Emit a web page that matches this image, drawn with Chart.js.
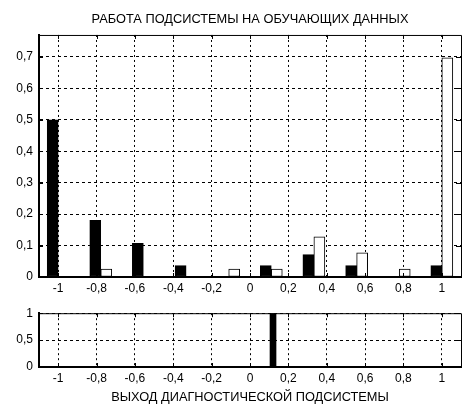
<!DOCTYPE html>
<html>
<head>
<meta charset="utf-8">
<script src="https://cdn.jsdelivr.net/npm/chart.js@4"></script>
<style>
  body { margin: 0; background: #fff; }
  #wrap { position: relative; width: 475px; height: 417px; }
  .box { position: absolute; left: 0; width: 475px; }
</style>
</head>
<body>
<div id="wrap">
  <div class="box" style="top:0; height:300px;"><canvas id="top"></canvas></div>
  <div class="box" style="top:300px; height:117px;"><canvas id="bottom"></canvas></div>
</div>
<script>
// центры интервалов гистограммы
var binCenters = [-1, -0.778, -0.556, -0.333, -0.111, 0.111, 0.333, 0.556, 0.778, 1];
// доли (черные / белые столбики)
var blackVals = [0.5, 0.18, 0.107, 0.036, 0, 0.036, 0.071, 0.036, 0, 0.036];
var whiteVals = [0, 0.025, 0, 0, 0.025, 0.025, 0.128, 0.077, 0.025, 0.697];
// нижний график
var outX = [0.12];
var outY = [1];

var xTicks = [-1, -0.8, -0.6, -0.4, -0.2, 0, 0.2, 0.4, 0.6, 0.8, 1];
var yTicksTop = [0, 0.1, 0.2, 0.3, 0.4, 0.5, 0.6, 0.7];
var yTicksBottom = [0, 0.5, 1];

var FONT = { family: 'Liberation Sans, Arial, sans-serif', size: 12, weight: 'normal' };
var TFONT = { family: 'Liberation Sans, Arial, sans-serif', size: 12.8, weight: 'normal' };
Chart.defaults.color = '#000';

function fmt(v) { return String(v).replace('.', ','); }
function pts(xs, ys) {
  return xs.map(function(x, i) { return { x: x, y: ys[i] === 0 ? null : ys[i] }; });
}

// рамка сверху/справа и внутренние риски
var boxPlugin = {
  id: 'boxPlugin',
  afterDraw: function(chart) {
    var a = chart.chartArea, c = chart.ctx;
    var xs = chart.scales.x, ys = chart.scales.y;
    c.save();
    c.strokeStyle = '#000';
    c.lineWidth = 1;
    c.setLineDash([]);
    c.beginPath();
    c.moveTo(a.left, a.top + 0.5); c.lineTo(a.right + 0.5, a.top + 0.5);
    c.lineTo(a.right + 0.5, a.bottom);
    c.stroke();
    c.beginPath();
    xs.ticks.forEach(function(t) {
      var px = Math.round(xs.getPixelForValue(t.value)) + 0.5;
      c.moveTo(px, a.bottom); c.lineTo(px, a.bottom - 4);
      c.moveTo(px, a.top); c.lineTo(px, a.top + 4);
    });
    ys.ticks.forEach(function(t) {
      var py = Math.round(ys.getPixelForValue(t.value)) + 0.5;
      c.moveTo(a.left, py); c.lineTo(a.left + 4, py);
      c.moveTo(a.right, py); c.lineTo(a.right - 5, py);
    });
    c.stroke();
    c.restore();
  }
};

function xScale(withTitle) {
  return {
    type: 'linear', min: -1.1, max: 1.1, offset: false,
    afterBuildTicks: function(s) { s.ticks = xTicks.map(function(v) { return { value: v }; }); },
    afterFit: function(s) { s.height = withTitle ? 50 : 23; },
    ticks: { font: FONT, padding: 4, maxRotation: 0, autoSkip: false, callback: fmt },
    grid: { offset: false, color: '#000', lineWidth: 1, drawTicks: false },
    border: { display: true, color: '#000', width: 2, dash: [2, 3] },
    title: withTitle
      ? { display: true, text: 'ВЫХОД ДИАГНОСТИЧЕСКОЙ ПОДСИСТЕМЫ', font: TFONT, padding: { top: 0, bottom: 12 } }
      : { display: false }
  };
}

function yScale(max, ticks) {
  return {
    type: 'linear', min: 0, max: max,
    afterBuildTicks: function(s) { s.ticks = ticks.map(function(v) { return { value: v }; }); },
    afterFit: function(s) { s.width = 39; },
    ticks: { font: FONT, padding: 6, callback: fmt },
    grid: { color: '#000', lineWidth: 1, drawTicks: false },
    border: { display: true, color: '#000', width: 2, dash: [3, 3] }
  };
}

new Chart(document.getElementById('top'), {
  type: 'bar',
  data: {
    datasets: [
      { data: pts(binCenters, blackVals), backgroundColor: '#000', borderColor: '#000', borderWidth: 1,
        borderSkipped: false, barThickness: 11 },
      { data: pts(binCenters, whiteVals), backgroundColor: '#fff', borderColor: '#000', borderWidth: 1,
        borderSkipped: false, barThickness: 11 }
    ]
  },
  options: {
    responsive: true, maintainAspectRatio: false, animation: false,
    layout: { padding: { left: 0, right: 14, top: 0, bottom: 0 } },
    plugins: {
      legend: { display: false }, tooltip: { enabled: false },
      title: { display: true, fullSize: false, text: 'РАБОТА ПОДСИСТЕМЫ НА ОБУЧАЮЩИХ ДАННЫХ',
        font: TFONT, color: '#000', padding: { top: 12, bottom: 7.6 } }
    },
    scales: { x: xScale(false), y: yScale(0.77, yTicksTop) }
  },
  plugins: [boxPlugin]
});

new Chart(document.getElementById('bottom'), {
  type: 'bar',
  data: {
    datasets: [
      { data: pts(outX, outY), backgroundColor: '#000', borderWidth: 0, barThickness: 6 }
    ]
  },
  options: {
    responsive: true, maintainAspectRatio: false, animation: false,
    layout: { padding: { left: 0, right: 14, top: 3, bottom: 0 } },
    plugins: { legend: { display: false }, tooltip: { enabled: false } },
    scales: { x: xScale(true), y: yScale(1, yTicksBottom) }
  },
  plugins: [boxPlugin]
});
</script>
</body>
</html>
